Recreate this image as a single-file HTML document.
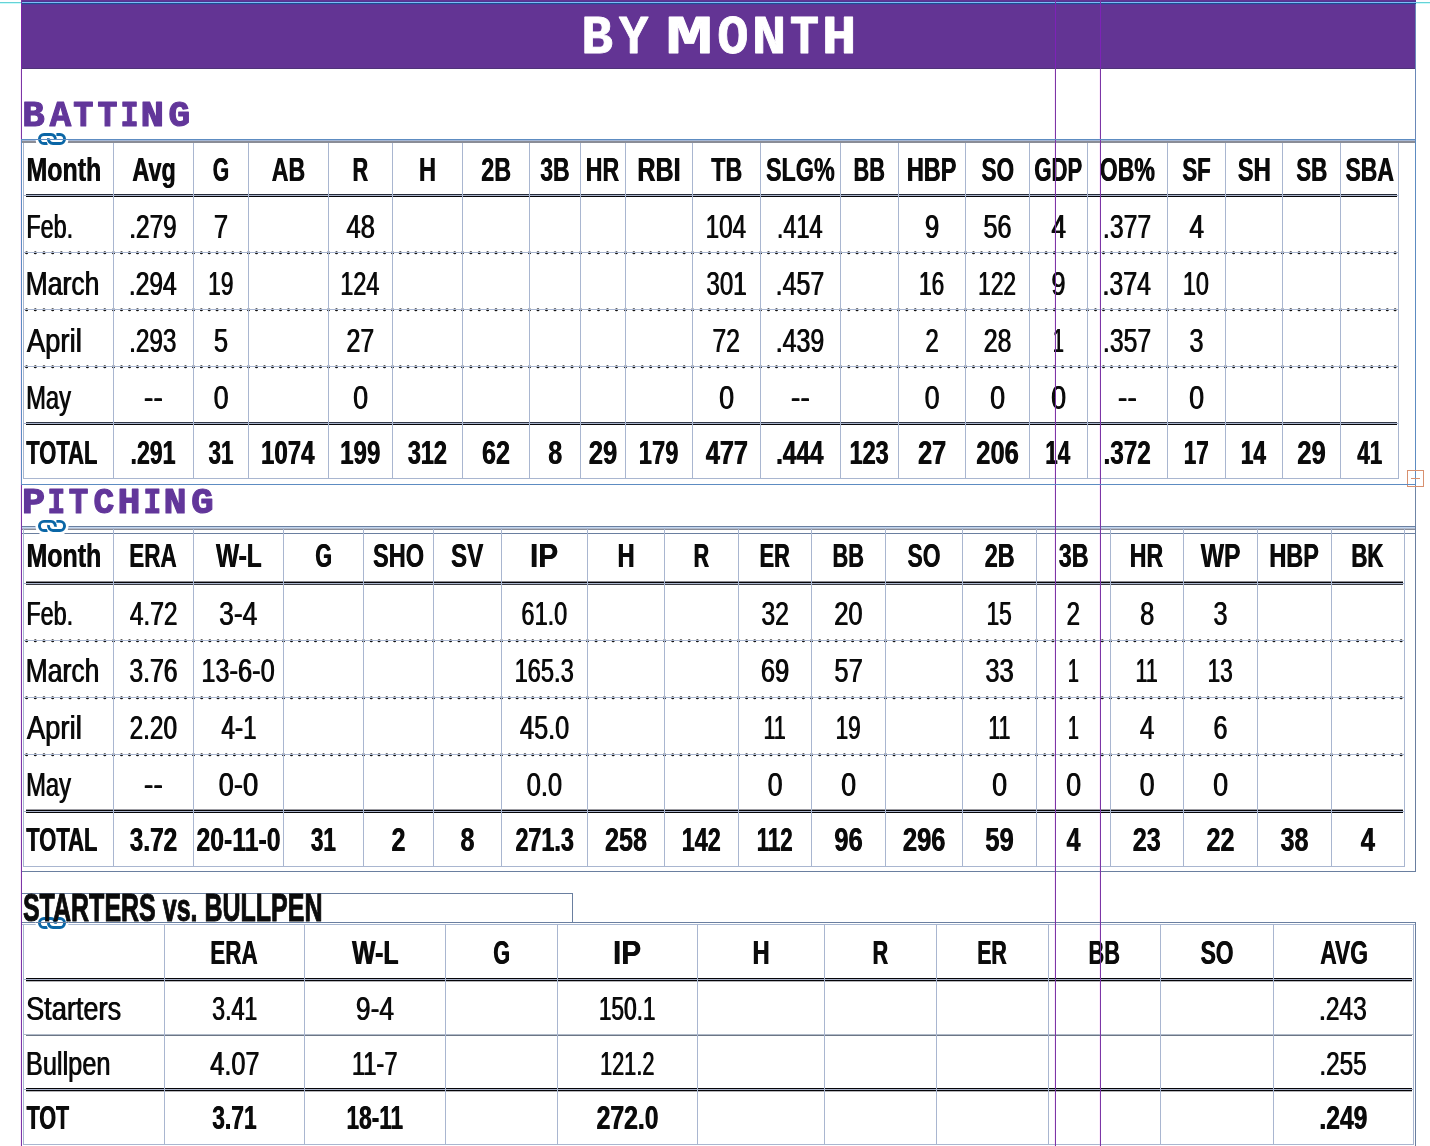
<!DOCTYPE html>
<html><head><meta charset="utf-8"><title>By Month</title>
<style>
html,body{margin:0;padding:0;background:#fff;}
body{width:1430px;height:1146px;overflow:hidden;}
svg{display:block;}
</style></head><body>
<svg width="1430" height="1146" viewBox="0 0 1430 1146">
<rect width="1430" height="1146" fill="#fff"/>

<rect x="20" y="69" width="1" height="1077" fill="#fcebfc" shape-rendering="crispEdges"/>
<rect x="1054" y="69" width="1" height="1077" fill="#fcebfc" shape-rendering="crispEdges"/>
<rect x="1099" y="69" width="1" height="1077" fill="#fcebfc" shape-rendering="crispEdges"/>
<rect x="0" y="2" width="1430" height="1" fill="#66d2d6" shape-rendering="crispEdges"/>
<rect x="0" y="3" width="1430" height="1" fill="#c8fbfb" shape-rendering="crispEdges"/>
<rect x="21" y="0" width="1395" height="69" fill="#633494" shape-rendering="crispEdges"/>
<rect x="21" y="1" width="1395" height="1" fill="#4d3592" shape-rendering="crispEdges"/>
<rect x="21" y="2" width="1395" height="1" fill="#7cbcf8" shape-rendering="crispEdges"/>
<rect x="21" y="3" width="1395" height="1" fill="#1d4f92" shape-rendering="crispEdges"/>
<rect x="21" y="4" width="1395" height="1" fill="#55399a" shape-rendering="crispEdges"/>
<rect x="21" y="68" width="1395" height="1" fill="#4f3478" shape-rendering="crispEdges"/>
<rect x="1415" y="4" width="1" height="135" fill="#6a88b8" shape-rendering="crispEdges"/>
<rect x="21" y="139" width="1395" height="1" fill="#5d8cc2" shape-rendering="crispEdges"/>
<rect x="22" y="140" width="1393" height="1" fill="#a6b8d6" shape-rendering="crispEdges"/>
<rect x="22" y="141" width="1393" height="2" fill="#8a8d97" shape-rendering="crispEdges"/>
<rect x="21" y="139" width="1" height="346" fill="#5d8cc2" shape-rendering="crispEdges"/>
<rect x="1415" y="139" width="1" height="346" fill="#5d8cc2" shape-rendering="crispEdges"/>
<rect x="21" y="484" width="1395" height="1" fill="#5d8cc2" shape-rendering="crispEdges"/>
<rect x="23" y="478" width="1376" height="1" fill="#a9b6d0" shape-rendering="crispEdges"/>
<rect x="26" y="194" width="1371" height="1" fill="#262c3a" shape-rendering="crispEdges"/>
<rect x="26" y="196" width="1371" height="1" fill="#050508" shape-rendering="crispEdges"/>
<rect x="23" y="195" width="1376" height="1" fill="#aab4cc" shape-rendering="crispEdges"/>
<path d="M26.60 252.80h0.01M35.29 252.80h0.01M43.98 252.80h0.01M52.67 252.80h0.01M61.36 252.80h0.01M70.05 252.80h0.01M78.74 252.80h0.01M87.43 252.80h0.01M96.12 252.80h0.01M104.81 252.80h0.01M113.50 252.80h0.01M121.50 252.80h0.01M129.50 252.80h0.01M137.50 252.80h0.01M145.50 252.80h0.01M153.50 252.80h0.01M161.50 252.80h0.01M169.50 252.80h0.01M177.50 252.80h0.01M185.50 252.80h0.01M193.50 252.80h0.01M201.36 252.80h0.01M209.21 252.80h0.01M217.07 252.80h0.01M224.93 252.80h0.01M232.79 252.80h0.01M240.64 252.80h0.01M248.50 252.80h0.01M256.50 252.80h0.01M264.50 252.80h0.01M272.50 252.80h0.01M280.50 252.80h0.01M288.50 252.80h0.01M296.50 252.80h0.01M304.50 252.80h0.01M312.50 252.80h0.01M320.50 252.80h0.01M328.50 252.80h0.01M336.50 252.80h0.01M344.50 252.80h0.01M352.50 252.80h0.01M360.50 252.80h0.01M368.50 252.80h0.01M376.50 252.80h0.01M384.50 252.80h0.01M392.50 252.80h0.01M400.28 252.80h0.01M408.06 252.80h0.01M415.83 252.80h0.01M423.61 252.80h0.01M431.39 252.80h0.01M439.17 252.80h0.01M446.94 252.80h0.01M454.72 252.80h0.01M462.50 252.80h0.01M470.88 252.80h0.01M479.25 252.80h0.01M487.62 252.80h0.01M496.00 252.80h0.01M504.38 252.80h0.01M512.75 252.80h0.01M521.12 252.80h0.01M529.50 252.80h0.01M538.00 252.80h0.01M546.50 252.80h0.01M555.00 252.80h0.01M563.50 252.80h0.01M572.00 252.80h0.01M580.50 252.80h0.01M589.50 252.80h0.01M598.50 252.80h0.01M607.50 252.80h0.01M616.50 252.80h0.01M625.50 252.80h0.01M633.88 252.80h0.01M642.25 252.80h0.01M650.62 252.80h0.01M659.00 252.80h0.01M667.38 252.80h0.01M675.75 252.80h0.01M684.12 252.80h0.01M692.50 252.80h0.01M701.00 252.80h0.01M709.50 252.80h0.01M718.00 252.80h0.01M726.50 252.80h0.01M735.00 252.80h0.01M743.50 252.80h0.01M752.00 252.80h0.01M760.50 252.80h0.01M768.50 252.80h0.01M776.50 252.80h0.01M784.50 252.80h0.01M792.50 252.80h0.01M800.50 252.80h0.01M808.50 252.80h0.01M816.50 252.80h0.01M824.50 252.80h0.01M832.50 252.80h0.01M840.50 252.80h0.01M848.79 252.80h0.01M857.07 252.80h0.01M865.36 252.80h0.01M873.64 252.80h0.01M881.93 252.80h0.01M890.21 252.80h0.01M898.50 252.80h0.01M906.88 252.80h0.01M915.25 252.80h0.01M923.62 252.80h0.01M932.00 252.80h0.01M940.38 252.80h0.01M948.75 252.80h0.01M957.12 252.80h0.01M965.50 252.80h0.01M973.50 252.80h0.01M981.50 252.80h0.01M989.50 252.80h0.01M997.50 252.80h0.01M1005.50 252.80h0.01M1013.50 252.80h0.01M1021.50 252.80h0.01M1029.50 252.80h0.01M1037.79 252.80h0.01M1046.07 252.80h0.01M1054.36 252.80h0.01M1062.64 252.80h0.01M1070.93 252.80h0.01M1079.21 252.80h0.01M1087.50 252.80h0.01M1095.50 252.80h0.01M1103.50 252.80h0.01M1111.50 252.80h0.01M1119.50 252.80h0.01M1127.50 252.80h0.01M1135.50 252.80h0.01M1143.50 252.80h0.01M1151.50 252.80h0.01M1159.50 252.80h0.01M1167.50 252.80h0.01M1175.79 252.80h0.01M1184.07 252.80h0.01M1192.36 252.80h0.01M1200.64 252.80h0.01M1208.93 252.80h0.01M1217.21 252.80h0.01M1225.50 252.80h0.01M1233.64 252.80h0.01M1241.79 252.80h0.01M1249.93 252.80h0.01M1258.07 252.80h0.01M1266.21 252.80h0.01M1274.36 252.80h0.01M1282.50 252.80h0.01M1290.79 252.80h0.01M1299.07 252.80h0.01M1307.36 252.80h0.01M1315.64 252.80h0.01M1323.93 252.80h0.01M1332.21 252.80h0.01M1340.50 252.80h0.01M1348.30 252.80h0.01M1356.10 252.80h0.01M1363.90 252.80h0.01M1371.70 252.80h0.01M1379.50 252.80h0.01M1387.30 252.80h0.01M1395.10 252.80h0.01" stroke="#111" stroke-width="3.1" stroke-linecap="round" fill="none"/>
<rect x="23" y="252" width="1376" height="1" fill="#a9b6d0" shape-rendering="crispEdges"/>
<path d="M26.60 309.80h0.01M35.29 309.80h0.01M43.98 309.80h0.01M52.67 309.80h0.01M61.36 309.80h0.01M70.05 309.80h0.01M78.74 309.80h0.01M87.43 309.80h0.01M96.12 309.80h0.01M104.81 309.80h0.01M113.50 309.80h0.01M121.50 309.80h0.01M129.50 309.80h0.01M137.50 309.80h0.01M145.50 309.80h0.01M153.50 309.80h0.01M161.50 309.80h0.01M169.50 309.80h0.01M177.50 309.80h0.01M185.50 309.80h0.01M193.50 309.80h0.01M201.36 309.80h0.01M209.21 309.80h0.01M217.07 309.80h0.01M224.93 309.80h0.01M232.79 309.80h0.01M240.64 309.80h0.01M248.50 309.80h0.01M256.50 309.80h0.01M264.50 309.80h0.01M272.50 309.80h0.01M280.50 309.80h0.01M288.50 309.80h0.01M296.50 309.80h0.01M304.50 309.80h0.01M312.50 309.80h0.01M320.50 309.80h0.01M328.50 309.80h0.01M336.50 309.80h0.01M344.50 309.80h0.01M352.50 309.80h0.01M360.50 309.80h0.01M368.50 309.80h0.01M376.50 309.80h0.01M384.50 309.80h0.01M392.50 309.80h0.01M400.28 309.80h0.01M408.06 309.80h0.01M415.83 309.80h0.01M423.61 309.80h0.01M431.39 309.80h0.01M439.17 309.80h0.01M446.94 309.80h0.01M454.72 309.80h0.01M462.50 309.80h0.01M470.88 309.80h0.01M479.25 309.80h0.01M487.62 309.80h0.01M496.00 309.80h0.01M504.38 309.80h0.01M512.75 309.80h0.01M521.12 309.80h0.01M529.50 309.80h0.01M538.00 309.80h0.01M546.50 309.80h0.01M555.00 309.80h0.01M563.50 309.80h0.01M572.00 309.80h0.01M580.50 309.80h0.01M589.50 309.80h0.01M598.50 309.80h0.01M607.50 309.80h0.01M616.50 309.80h0.01M625.50 309.80h0.01M633.88 309.80h0.01M642.25 309.80h0.01M650.62 309.80h0.01M659.00 309.80h0.01M667.38 309.80h0.01M675.75 309.80h0.01M684.12 309.80h0.01M692.50 309.80h0.01M701.00 309.80h0.01M709.50 309.80h0.01M718.00 309.80h0.01M726.50 309.80h0.01M735.00 309.80h0.01M743.50 309.80h0.01M752.00 309.80h0.01M760.50 309.80h0.01M768.50 309.80h0.01M776.50 309.80h0.01M784.50 309.80h0.01M792.50 309.80h0.01M800.50 309.80h0.01M808.50 309.80h0.01M816.50 309.80h0.01M824.50 309.80h0.01M832.50 309.80h0.01M840.50 309.80h0.01M848.79 309.80h0.01M857.07 309.80h0.01M865.36 309.80h0.01M873.64 309.80h0.01M881.93 309.80h0.01M890.21 309.80h0.01M898.50 309.80h0.01M906.88 309.80h0.01M915.25 309.80h0.01M923.62 309.80h0.01M932.00 309.80h0.01M940.38 309.80h0.01M948.75 309.80h0.01M957.12 309.80h0.01M965.50 309.80h0.01M973.50 309.80h0.01M981.50 309.80h0.01M989.50 309.80h0.01M997.50 309.80h0.01M1005.50 309.80h0.01M1013.50 309.80h0.01M1021.50 309.80h0.01M1029.50 309.80h0.01M1037.79 309.80h0.01M1046.07 309.80h0.01M1054.36 309.80h0.01M1062.64 309.80h0.01M1070.93 309.80h0.01M1079.21 309.80h0.01M1087.50 309.80h0.01M1095.50 309.80h0.01M1103.50 309.80h0.01M1111.50 309.80h0.01M1119.50 309.80h0.01M1127.50 309.80h0.01M1135.50 309.80h0.01M1143.50 309.80h0.01M1151.50 309.80h0.01M1159.50 309.80h0.01M1167.50 309.80h0.01M1175.79 309.80h0.01M1184.07 309.80h0.01M1192.36 309.80h0.01M1200.64 309.80h0.01M1208.93 309.80h0.01M1217.21 309.80h0.01M1225.50 309.80h0.01M1233.64 309.80h0.01M1241.79 309.80h0.01M1249.93 309.80h0.01M1258.07 309.80h0.01M1266.21 309.80h0.01M1274.36 309.80h0.01M1282.50 309.80h0.01M1290.79 309.80h0.01M1299.07 309.80h0.01M1307.36 309.80h0.01M1315.64 309.80h0.01M1323.93 309.80h0.01M1332.21 309.80h0.01M1340.50 309.80h0.01M1348.30 309.80h0.01M1356.10 309.80h0.01M1363.90 309.80h0.01M1371.70 309.80h0.01M1379.50 309.80h0.01M1387.30 309.80h0.01M1395.10 309.80h0.01" stroke="#111" stroke-width="3.1" stroke-linecap="round" fill="none"/>
<rect x="23" y="309" width="1376" height="1" fill="#a9b6d0" shape-rendering="crispEdges"/>
<path d="M26.60 366.80h0.01M35.29 366.80h0.01M43.98 366.80h0.01M52.67 366.80h0.01M61.36 366.80h0.01M70.05 366.80h0.01M78.74 366.80h0.01M87.43 366.80h0.01M96.12 366.80h0.01M104.81 366.80h0.01M113.50 366.80h0.01M121.50 366.80h0.01M129.50 366.80h0.01M137.50 366.80h0.01M145.50 366.80h0.01M153.50 366.80h0.01M161.50 366.80h0.01M169.50 366.80h0.01M177.50 366.80h0.01M185.50 366.80h0.01M193.50 366.80h0.01M201.36 366.80h0.01M209.21 366.80h0.01M217.07 366.80h0.01M224.93 366.80h0.01M232.79 366.80h0.01M240.64 366.80h0.01M248.50 366.80h0.01M256.50 366.80h0.01M264.50 366.80h0.01M272.50 366.80h0.01M280.50 366.80h0.01M288.50 366.80h0.01M296.50 366.80h0.01M304.50 366.80h0.01M312.50 366.80h0.01M320.50 366.80h0.01M328.50 366.80h0.01M336.50 366.80h0.01M344.50 366.80h0.01M352.50 366.80h0.01M360.50 366.80h0.01M368.50 366.80h0.01M376.50 366.80h0.01M384.50 366.80h0.01M392.50 366.80h0.01M400.28 366.80h0.01M408.06 366.80h0.01M415.83 366.80h0.01M423.61 366.80h0.01M431.39 366.80h0.01M439.17 366.80h0.01M446.94 366.80h0.01M454.72 366.80h0.01M462.50 366.80h0.01M470.88 366.80h0.01M479.25 366.80h0.01M487.62 366.80h0.01M496.00 366.80h0.01M504.38 366.80h0.01M512.75 366.80h0.01M521.12 366.80h0.01M529.50 366.80h0.01M538.00 366.80h0.01M546.50 366.80h0.01M555.00 366.80h0.01M563.50 366.80h0.01M572.00 366.80h0.01M580.50 366.80h0.01M589.50 366.80h0.01M598.50 366.80h0.01M607.50 366.80h0.01M616.50 366.80h0.01M625.50 366.80h0.01M633.88 366.80h0.01M642.25 366.80h0.01M650.62 366.80h0.01M659.00 366.80h0.01M667.38 366.80h0.01M675.75 366.80h0.01M684.12 366.80h0.01M692.50 366.80h0.01M701.00 366.80h0.01M709.50 366.80h0.01M718.00 366.80h0.01M726.50 366.80h0.01M735.00 366.80h0.01M743.50 366.80h0.01M752.00 366.80h0.01M760.50 366.80h0.01M768.50 366.80h0.01M776.50 366.80h0.01M784.50 366.80h0.01M792.50 366.80h0.01M800.50 366.80h0.01M808.50 366.80h0.01M816.50 366.80h0.01M824.50 366.80h0.01M832.50 366.80h0.01M840.50 366.80h0.01M848.79 366.80h0.01M857.07 366.80h0.01M865.36 366.80h0.01M873.64 366.80h0.01M881.93 366.80h0.01M890.21 366.80h0.01M898.50 366.80h0.01M906.88 366.80h0.01M915.25 366.80h0.01M923.62 366.80h0.01M932.00 366.80h0.01M940.38 366.80h0.01M948.75 366.80h0.01M957.12 366.80h0.01M965.50 366.80h0.01M973.50 366.80h0.01M981.50 366.80h0.01M989.50 366.80h0.01M997.50 366.80h0.01M1005.50 366.80h0.01M1013.50 366.80h0.01M1021.50 366.80h0.01M1029.50 366.80h0.01M1037.79 366.80h0.01M1046.07 366.80h0.01M1054.36 366.80h0.01M1062.64 366.80h0.01M1070.93 366.80h0.01M1079.21 366.80h0.01M1087.50 366.80h0.01M1095.50 366.80h0.01M1103.50 366.80h0.01M1111.50 366.80h0.01M1119.50 366.80h0.01M1127.50 366.80h0.01M1135.50 366.80h0.01M1143.50 366.80h0.01M1151.50 366.80h0.01M1159.50 366.80h0.01M1167.50 366.80h0.01M1175.79 366.80h0.01M1184.07 366.80h0.01M1192.36 366.80h0.01M1200.64 366.80h0.01M1208.93 366.80h0.01M1217.21 366.80h0.01M1225.50 366.80h0.01M1233.64 366.80h0.01M1241.79 366.80h0.01M1249.93 366.80h0.01M1258.07 366.80h0.01M1266.21 366.80h0.01M1274.36 366.80h0.01M1282.50 366.80h0.01M1290.79 366.80h0.01M1299.07 366.80h0.01M1307.36 366.80h0.01M1315.64 366.80h0.01M1323.93 366.80h0.01M1332.21 366.80h0.01M1340.50 366.80h0.01M1348.30 366.80h0.01M1356.10 366.80h0.01M1363.90 366.80h0.01M1371.70 366.80h0.01M1379.50 366.80h0.01M1387.30 366.80h0.01M1395.10 366.80h0.01" stroke="#111" stroke-width="3.1" stroke-linecap="round" fill="none"/>
<rect x="23" y="366" width="1376" height="1" fill="#a9b6d0" shape-rendering="crispEdges"/>
<rect x="26" y="422" width="1371" height="1" fill="#343a4a" shape-rendering="crispEdges"/>
<rect x="26" y="424" width="1371" height="1" fill="#050508" shape-rendering="crispEdges"/>
<rect x="23" y="423" width="1376" height="1" fill="#aab4cc" shape-rendering="crispEdges"/>
<rect x="23" y="143" width="1" height="336" fill="#a9b6d0" shape-rendering="crispEdges"/>
<rect x="113" y="143" width="1" height="336" fill="#a9b6d0" shape-rendering="crispEdges"/>
<rect x="193" y="143" width="1" height="336" fill="#a9b6d0" shape-rendering="crispEdges"/>
<rect x="248" y="143" width="1" height="336" fill="#a9b6d0" shape-rendering="crispEdges"/>
<rect x="328" y="143" width="1" height="336" fill="#a9b6d0" shape-rendering="crispEdges"/>
<rect x="392" y="143" width="1" height="336" fill="#a9b6d0" shape-rendering="crispEdges"/>
<rect x="462" y="143" width="1" height="336" fill="#a9b6d0" shape-rendering="crispEdges"/>
<rect x="529" y="143" width="1" height="336" fill="#a9b6d0" shape-rendering="crispEdges"/>
<rect x="580" y="143" width="1" height="336" fill="#a9b6d0" shape-rendering="crispEdges"/>
<rect x="625" y="143" width="1" height="336" fill="#a9b6d0" shape-rendering="crispEdges"/>
<rect x="692" y="143" width="1" height="336" fill="#a9b6d0" shape-rendering="crispEdges"/>
<rect x="760" y="143" width="1" height="336" fill="#a9b6d0" shape-rendering="crispEdges"/>
<rect x="840" y="143" width="1" height="336" fill="#a9b6d0" shape-rendering="crispEdges"/>
<rect x="898" y="143" width="1" height="336" fill="#a9b6d0" shape-rendering="crispEdges"/>
<rect x="965" y="143" width="1" height="336" fill="#a9b6d0" shape-rendering="crispEdges"/>
<rect x="1029" y="143" width="1" height="336" fill="#a9b6d0" shape-rendering="crispEdges"/>
<rect x="1087" y="143" width="1" height="336" fill="#a9b6d0" shape-rendering="crispEdges"/>
<rect x="1167" y="143" width="1" height="336" fill="#a9b6d0" shape-rendering="crispEdges"/>
<rect x="1225" y="143" width="1" height="336" fill="#a9b6d0" shape-rendering="crispEdges"/>
<rect x="1282" y="143" width="1" height="336" fill="#a9b6d0" shape-rendering="crispEdges"/>
<rect x="1340" y="143" width="1" height="336" fill="#a9b6d0" shape-rendering="crispEdges"/>
<rect x="1398" y="143" width="1" height="336" fill="#a9b6d0" shape-rendering="crispEdges"/>
<rect x="21" y="526" width="1395" height="1" fill="#6a7fa0" shape-rendering="crispEdges"/>
<rect x="22" y="527" width="1393" height="1" fill="#c2d6f0" shape-rendering="crispEdges"/>
<rect x="22" y="528" width="1393" height="1" fill="#b4bccc" shape-rendering="crispEdges"/>
<rect x="22" y="529" width="1393" height="1" fill="#8a8d97" shape-rendering="crispEdges"/>
<rect x="22" y="533" width="1394" height="1" fill="#6a7fa0" shape-rendering="crispEdges"/>
<rect x="1415" y="485" width="1" height="41" fill="#6f85a6" shape-rendering="crispEdges"/>
<rect x="1415" y="526" width="1" height="346" fill="#6a7fa0" shape-rendering="crispEdges"/>
<rect x="21" y="871" width="1395" height="1" fill="#6a7fa0" shape-rendering="crispEdges"/>
<rect x="23" y="866" width="1382" height="1" fill="#a9b6d0" shape-rendering="crispEdges"/>
<rect x="26" y="581" width="1377" height="1" fill="#8c8c92" shape-rendering="crispEdges"/>
<rect x="26" y="582" width="1377" height="1" fill="#050508" shape-rendering="crispEdges"/>
<rect x="26" y="584" width="1377" height="1" fill="#383a42" shape-rendering="crispEdges"/>
<rect x="23" y="583" width="1382" height="1" fill="#aab4cc" shape-rendering="crispEdges"/>
<path d="M26.60 640.80h0.01M35.29 640.80h0.01M43.98 640.80h0.01M52.67 640.80h0.01M61.36 640.80h0.01M70.05 640.80h0.01M78.74 640.80h0.01M87.43 640.80h0.01M96.12 640.80h0.01M104.81 640.80h0.01M113.50 640.80h0.01M121.50 640.80h0.01M129.50 640.80h0.01M137.50 640.80h0.01M145.50 640.80h0.01M153.50 640.80h0.01M161.50 640.80h0.01M169.50 640.80h0.01M177.50 640.80h0.01M185.50 640.80h0.01M193.50 640.80h0.01M201.68 640.80h0.01M209.86 640.80h0.01M218.05 640.80h0.01M226.23 640.80h0.01M234.41 640.80h0.01M242.59 640.80h0.01M250.77 640.80h0.01M258.95 640.80h0.01M267.14 640.80h0.01M275.32 640.80h0.01M283.50 640.80h0.01M291.50 640.80h0.01M299.50 640.80h0.01M307.50 640.80h0.01M315.50 640.80h0.01M323.50 640.80h0.01M331.50 640.80h0.01M339.50 640.80h0.01M347.50 640.80h0.01M355.50 640.80h0.01M363.50 640.80h0.01M371.28 640.80h0.01M379.06 640.80h0.01M386.83 640.80h0.01M394.61 640.80h0.01M402.39 640.80h0.01M410.17 640.80h0.01M417.94 640.80h0.01M425.72 640.80h0.01M433.50 640.80h0.01M442.00 640.80h0.01M450.50 640.80h0.01M459.00 640.80h0.01M467.50 640.80h0.01M476.00 640.80h0.01M484.50 640.80h0.01M493.00 640.80h0.01M501.50 640.80h0.01M509.32 640.80h0.01M517.14 640.80h0.01M524.95 640.80h0.01M532.77 640.80h0.01M540.59 640.80h0.01M548.41 640.80h0.01M556.23 640.80h0.01M564.05 640.80h0.01M571.86 640.80h0.01M579.68 640.80h0.01M587.50 640.80h0.01M596.06 640.80h0.01M604.61 640.80h0.01M613.17 640.80h0.01M621.72 640.80h0.01M630.28 640.80h0.01M638.83 640.80h0.01M647.39 640.80h0.01M655.94 640.80h0.01M664.50 640.80h0.01M672.72 640.80h0.01M680.94 640.80h0.01M689.17 640.80h0.01M697.39 640.80h0.01M705.61 640.80h0.01M713.83 640.80h0.01M722.06 640.80h0.01M730.28 640.80h0.01M738.50 640.80h0.01M746.61 640.80h0.01M754.72 640.80h0.01M762.83 640.80h0.01M770.94 640.80h0.01M779.06 640.80h0.01M787.17 640.80h0.01M795.28 640.80h0.01M803.39 640.80h0.01M811.50 640.80h0.01M819.72 640.80h0.01M827.94 640.80h0.01M836.17 640.80h0.01M844.39 640.80h0.01M852.61 640.80h0.01M860.83 640.80h0.01M869.06 640.80h0.01M877.28 640.80h0.01M885.50 640.80h0.01M894.06 640.80h0.01M902.61 640.80h0.01M911.17 640.80h0.01M919.72 640.80h0.01M928.28 640.80h0.01M936.83 640.80h0.01M945.39 640.80h0.01M953.94 640.80h0.01M962.50 640.80h0.01M970.72 640.80h0.01M978.94 640.80h0.01M987.17 640.80h0.01M995.39 640.80h0.01M1003.61 640.80h0.01M1011.83 640.80h0.01M1020.06 640.80h0.01M1028.28 640.80h0.01M1036.50 640.80h0.01M1044.72 640.80h0.01M1052.94 640.80h0.01M1061.17 640.80h0.01M1069.39 640.80h0.01M1077.61 640.80h0.01M1085.83 640.80h0.01M1094.06 640.80h0.01M1102.28 640.80h0.01M1110.50 640.80h0.01M1118.61 640.80h0.01M1126.72 640.80h0.01M1134.83 640.80h0.01M1142.94 640.80h0.01M1151.06 640.80h0.01M1159.17 640.80h0.01M1167.28 640.80h0.01M1175.39 640.80h0.01M1183.50 640.80h0.01M1191.72 640.80h0.01M1199.94 640.80h0.01M1208.17 640.80h0.01M1216.39 640.80h0.01M1224.61 640.80h0.01M1232.83 640.80h0.01M1241.06 640.80h0.01M1249.28 640.80h0.01M1257.50 640.80h0.01M1265.72 640.80h0.01M1273.94 640.80h0.01M1282.17 640.80h0.01M1290.39 640.80h0.01M1298.61 640.80h0.01M1306.83 640.80h0.01M1315.06 640.80h0.01M1323.28 640.80h0.01M1331.50 640.80h0.01M1340.20 640.80h0.01M1348.90 640.80h0.01M1357.60 640.80h0.01M1366.30 640.80h0.01M1375.00 640.80h0.01M1383.70 640.80h0.01M1392.40 640.80h0.01M1401.10 640.80h0.01" stroke="#111" stroke-width="3.1" stroke-linecap="round" fill="none"/>
<rect x="23" y="640" width="1382" height="1" fill="#a9b6d0" shape-rendering="crispEdges"/>
<path d="M26.60 697.80h0.01M35.29 697.80h0.01M43.98 697.80h0.01M52.67 697.80h0.01M61.36 697.80h0.01M70.05 697.80h0.01M78.74 697.80h0.01M87.43 697.80h0.01M96.12 697.80h0.01M104.81 697.80h0.01M113.50 697.80h0.01M121.50 697.80h0.01M129.50 697.80h0.01M137.50 697.80h0.01M145.50 697.80h0.01M153.50 697.80h0.01M161.50 697.80h0.01M169.50 697.80h0.01M177.50 697.80h0.01M185.50 697.80h0.01M193.50 697.80h0.01M201.68 697.80h0.01M209.86 697.80h0.01M218.05 697.80h0.01M226.23 697.80h0.01M234.41 697.80h0.01M242.59 697.80h0.01M250.77 697.80h0.01M258.95 697.80h0.01M267.14 697.80h0.01M275.32 697.80h0.01M283.50 697.80h0.01M291.50 697.80h0.01M299.50 697.80h0.01M307.50 697.80h0.01M315.50 697.80h0.01M323.50 697.80h0.01M331.50 697.80h0.01M339.50 697.80h0.01M347.50 697.80h0.01M355.50 697.80h0.01M363.50 697.80h0.01M371.28 697.80h0.01M379.06 697.80h0.01M386.83 697.80h0.01M394.61 697.80h0.01M402.39 697.80h0.01M410.17 697.80h0.01M417.94 697.80h0.01M425.72 697.80h0.01M433.50 697.80h0.01M442.00 697.80h0.01M450.50 697.80h0.01M459.00 697.80h0.01M467.50 697.80h0.01M476.00 697.80h0.01M484.50 697.80h0.01M493.00 697.80h0.01M501.50 697.80h0.01M509.32 697.80h0.01M517.14 697.80h0.01M524.95 697.80h0.01M532.77 697.80h0.01M540.59 697.80h0.01M548.41 697.80h0.01M556.23 697.80h0.01M564.05 697.80h0.01M571.86 697.80h0.01M579.68 697.80h0.01M587.50 697.80h0.01M596.06 697.80h0.01M604.61 697.80h0.01M613.17 697.80h0.01M621.72 697.80h0.01M630.28 697.80h0.01M638.83 697.80h0.01M647.39 697.80h0.01M655.94 697.80h0.01M664.50 697.80h0.01M672.72 697.80h0.01M680.94 697.80h0.01M689.17 697.80h0.01M697.39 697.80h0.01M705.61 697.80h0.01M713.83 697.80h0.01M722.06 697.80h0.01M730.28 697.80h0.01M738.50 697.80h0.01M746.61 697.80h0.01M754.72 697.80h0.01M762.83 697.80h0.01M770.94 697.80h0.01M779.06 697.80h0.01M787.17 697.80h0.01M795.28 697.80h0.01M803.39 697.80h0.01M811.50 697.80h0.01M819.72 697.80h0.01M827.94 697.80h0.01M836.17 697.80h0.01M844.39 697.80h0.01M852.61 697.80h0.01M860.83 697.80h0.01M869.06 697.80h0.01M877.28 697.80h0.01M885.50 697.80h0.01M894.06 697.80h0.01M902.61 697.80h0.01M911.17 697.80h0.01M919.72 697.80h0.01M928.28 697.80h0.01M936.83 697.80h0.01M945.39 697.80h0.01M953.94 697.80h0.01M962.50 697.80h0.01M970.72 697.80h0.01M978.94 697.80h0.01M987.17 697.80h0.01M995.39 697.80h0.01M1003.61 697.80h0.01M1011.83 697.80h0.01M1020.06 697.80h0.01M1028.28 697.80h0.01M1036.50 697.80h0.01M1044.72 697.80h0.01M1052.94 697.80h0.01M1061.17 697.80h0.01M1069.39 697.80h0.01M1077.61 697.80h0.01M1085.83 697.80h0.01M1094.06 697.80h0.01M1102.28 697.80h0.01M1110.50 697.80h0.01M1118.61 697.80h0.01M1126.72 697.80h0.01M1134.83 697.80h0.01M1142.94 697.80h0.01M1151.06 697.80h0.01M1159.17 697.80h0.01M1167.28 697.80h0.01M1175.39 697.80h0.01M1183.50 697.80h0.01M1191.72 697.80h0.01M1199.94 697.80h0.01M1208.17 697.80h0.01M1216.39 697.80h0.01M1224.61 697.80h0.01M1232.83 697.80h0.01M1241.06 697.80h0.01M1249.28 697.80h0.01M1257.50 697.80h0.01M1265.72 697.80h0.01M1273.94 697.80h0.01M1282.17 697.80h0.01M1290.39 697.80h0.01M1298.61 697.80h0.01M1306.83 697.80h0.01M1315.06 697.80h0.01M1323.28 697.80h0.01M1331.50 697.80h0.01M1340.20 697.80h0.01M1348.90 697.80h0.01M1357.60 697.80h0.01M1366.30 697.80h0.01M1375.00 697.80h0.01M1383.70 697.80h0.01M1392.40 697.80h0.01M1401.10 697.80h0.01" stroke="#111" stroke-width="3.1" stroke-linecap="round" fill="none"/>
<rect x="23" y="697" width="1382" height="1" fill="#a9b6d0" shape-rendering="crispEdges"/>
<path d="M26.60 754.80h0.01M35.29 754.80h0.01M43.98 754.80h0.01M52.67 754.80h0.01M61.36 754.80h0.01M70.05 754.80h0.01M78.74 754.80h0.01M87.43 754.80h0.01M96.12 754.80h0.01M104.81 754.80h0.01M113.50 754.80h0.01M121.50 754.80h0.01M129.50 754.80h0.01M137.50 754.80h0.01M145.50 754.80h0.01M153.50 754.80h0.01M161.50 754.80h0.01M169.50 754.80h0.01M177.50 754.80h0.01M185.50 754.80h0.01M193.50 754.80h0.01M201.68 754.80h0.01M209.86 754.80h0.01M218.05 754.80h0.01M226.23 754.80h0.01M234.41 754.80h0.01M242.59 754.80h0.01M250.77 754.80h0.01M258.95 754.80h0.01M267.14 754.80h0.01M275.32 754.80h0.01M283.50 754.80h0.01M291.50 754.80h0.01M299.50 754.80h0.01M307.50 754.80h0.01M315.50 754.80h0.01M323.50 754.80h0.01M331.50 754.80h0.01M339.50 754.80h0.01M347.50 754.80h0.01M355.50 754.80h0.01M363.50 754.80h0.01M371.28 754.80h0.01M379.06 754.80h0.01M386.83 754.80h0.01M394.61 754.80h0.01M402.39 754.80h0.01M410.17 754.80h0.01M417.94 754.80h0.01M425.72 754.80h0.01M433.50 754.80h0.01M442.00 754.80h0.01M450.50 754.80h0.01M459.00 754.80h0.01M467.50 754.80h0.01M476.00 754.80h0.01M484.50 754.80h0.01M493.00 754.80h0.01M501.50 754.80h0.01M509.32 754.80h0.01M517.14 754.80h0.01M524.95 754.80h0.01M532.77 754.80h0.01M540.59 754.80h0.01M548.41 754.80h0.01M556.23 754.80h0.01M564.05 754.80h0.01M571.86 754.80h0.01M579.68 754.80h0.01M587.50 754.80h0.01M596.06 754.80h0.01M604.61 754.80h0.01M613.17 754.80h0.01M621.72 754.80h0.01M630.28 754.80h0.01M638.83 754.80h0.01M647.39 754.80h0.01M655.94 754.80h0.01M664.50 754.80h0.01M672.72 754.80h0.01M680.94 754.80h0.01M689.17 754.80h0.01M697.39 754.80h0.01M705.61 754.80h0.01M713.83 754.80h0.01M722.06 754.80h0.01M730.28 754.80h0.01M738.50 754.80h0.01M746.61 754.80h0.01M754.72 754.80h0.01M762.83 754.80h0.01M770.94 754.80h0.01M779.06 754.80h0.01M787.17 754.80h0.01M795.28 754.80h0.01M803.39 754.80h0.01M811.50 754.80h0.01M819.72 754.80h0.01M827.94 754.80h0.01M836.17 754.80h0.01M844.39 754.80h0.01M852.61 754.80h0.01M860.83 754.80h0.01M869.06 754.80h0.01M877.28 754.80h0.01M885.50 754.80h0.01M894.06 754.80h0.01M902.61 754.80h0.01M911.17 754.80h0.01M919.72 754.80h0.01M928.28 754.80h0.01M936.83 754.80h0.01M945.39 754.80h0.01M953.94 754.80h0.01M962.50 754.80h0.01M970.72 754.80h0.01M978.94 754.80h0.01M987.17 754.80h0.01M995.39 754.80h0.01M1003.61 754.80h0.01M1011.83 754.80h0.01M1020.06 754.80h0.01M1028.28 754.80h0.01M1036.50 754.80h0.01M1044.72 754.80h0.01M1052.94 754.80h0.01M1061.17 754.80h0.01M1069.39 754.80h0.01M1077.61 754.80h0.01M1085.83 754.80h0.01M1094.06 754.80h0.01M1102.28 754.80h0.01M1110.50 754.80h0.01M1118.61 754.80h0.01M1126.72 754.80h0.01M1134.83 754.80h0.01M1142.94 754.80h0.01M1151.06 754.80h0.01M1159.17 754.80h0.01M1167.28 754.80h0.01M1175.39 754.80h0.01M1183.50 754.80h0.01M1191.72 754.80h0.01M1199.94 754.80h0.01M1208.17 754.80h0.01M1216.39 754.80h0.01M1224.61 754.80h0.01M1232.83 754.80h0.01M1241.06 754.80h0.01M1249.28 754.80h0.01M1257.50 754.80h0.01M1265.72 754.80h0.01M1273.94 754.80h0.01M1282.17 754.80h0.01M1290.39 754.80h0.01M1298.61 754.80h0.01M1306.83 754.80h0.01M1315.06 754.80h0.01M1323.28 754.80h0.01M1331.50 754.80h0.01M1340.20 754.80h0.01M1348.90 754.80h0.01M1357.60 754.80h0.01M1366.30 754.80h0.01M1375.00 754.80h0.01M1383.70 754.80h0.01M1392.40 754.80h0.01M1401.10 754.80h0.01" stroke="#111" stroke-width="3.1" stroke-linecap="round" fill="none"/>
<rect x="23" y="754" width="1382" height="1" fill="#a9b6d0" shape-rendering="crispEdges"/>
<rect x="26" y="809" width="1377" height="1" fill="#9c9ca2" shape-rendering="crispEdges"/>
<rect x="26" y="810" width="1377" height="1" fill="#050508" shape-rendering="crispEdges"/>
<rect x="26" y="812" width="1377" height="1" fill="#050508" shape-rendering="crispEdges"/>
<rect x="23" y="811" width="1382" height="1" fill="#aab4cc" shape-rendering="crispEdges"/>
<rect x="23" y="528" width="1" height="339" fill="#a9b6d0" shape-rendering="crispEdges"/>
<rect x="113" y="528" width="1" height="339" fill="#a9b6d0" shape-rendering="crispEdges"/>
<rect x="193" y="528" width="1" height="339" fill="#a9b6d0" shape-rendering="crispEdges"/>
<rect x="283" y="528" width="1" height="339" fill="#a9b6d0" shape-rendering="crispEdges"/>
<rect x="363" y="528" width="1" height="339" fill="#a9b6d0" shape-rendering="crispEdges"/>
<rect x="433" y="528" width="1" height="339" fill="#a9b6d0" shape-rendering="crispEdges"/>
<rect x="501" y="528" width="1" height="339" fill="#a9b6d0" shape-rendering="crispEdges"/>
<rect x="587" y="528" width="1" height="339" fill="#a9b6d0" shape-rendering="crispEdges"/>
<rect x="664" y="528" width="1" height="339" fill="#a9b6d0" shape-rendering="crispEdges"/>
<rect x="738" y="528" width="1" height="339" fill="#a9b6d0" shape-rendering="crispEdges"/>
<rect x="811" y="528" width="1" height="339" fill="#a9b6d0" shape-rendering="crispEdges"/>
<rect x="885" y="528" width="1" height="339" fill="#a9b6d0" shape-rendering="crispEdges"/>
<rect x="962" y="528" width="1" height="339" fill="#a9b6d0" shape-rendering="crispEdges"/>
<rect x="1036" y="528" width="1" height="339" fill="#a9b6d0" shape-rendering="crispEdges"/>
<rect x="1110" y="528" width="1" height="339" fill="#a9b6d0" shape-rendering="crispEdges"/>
<rect x="1183" y="528" width="1" height="339" fill="#a9b6d0" shape-rendering="crispEdges"/>
<rect x="1257" y="528" width="1" height="339" fill="#a9b6d0" shape-rendering="crispEdges"/>
<rect x="1331" y="528" width="1" height="339" fill="#a9b6d0" shape-rendering="crispEdges"/>
<rect x="1404" y="528" width="1" height="339" fill="#a9b6d0" shape-rendering="crispEdges"/>
<rect x="21" y="893" width="552" height="1" fill="#6a7fa0" shape-rendering="crispEdges"/>
<rect x="572" y="893" width="1" height="30" fill="#6a7fa0" shape-rendering="crispEdges"/>
<rect x="21" y="922" width="1395" height="1" fill="#6a7fa0" shape-rendering="crispEdges"/>
<rect x="22" y="924" width="1393" height="1" fill="#a9b8d2" shape-rendering="crispEdges"/>
<rect x="1415" y="922" width="1" height="224" fill="#6a7fa0" shape-rendering="crispEdges"/>
<rect x="23" y="1144" width="1391" height="1" fill="#a9b6d0" shape-rendering="crispEdges"/>
<rect x="26" y="978" width="1386" height="1" fill="#050508" shape-rendering="crispEdges"/>
<rect x="26" y="980" width="1386" height="1" fill="#050508" shape-rendering="crispEdges"/>
<rect x="26" y="981" width="1386" height="1" fill="#b4b4b8" shape-rendering="crispEdges"/>
<rect x="23" y="979" width="1391" height="1" fill="#aab4cc" shape-rendering="crispEdges"/>
<rect x="23" y="1034" width="1391" height="1" fill="#b0bac8" shape-rendering="crispEdges"/>
<rect x="26" y="1035" width="1386" height="1" fill="#6c7686" shape-rendering="crispEdges"/>
<rect x="26" y="1088" width="1386" height="1" fill="#050508" shape-rendering="crispEdges"/>
<rect x="26" y="1090" width="1386" height="1" fill="#050508" shape-rendering="crispEdges"/>
<rect x="26" y="1091" width="1386" height="1" fill="#b4b4b8" shape-rendering="crispEdges"/>
<rect x="23" y="1089" width="1391" height="1" fill="#aab4cc" shape-rendering="crispEdges"/>
<rect x="23" y="924" width="1" height="221" fill="#a9b6d0" shape-rendering="crispEdges"/>
<rect x="164" y="924" width="1" height="221" fill="#a9b6d0" shape-rendering="crispEdges"/>
<rect x="304" y="924" width="1" height="221" fill="#a9b6d0" shape-rendering="crispEdges"/>
<rect x="445" y="924" width="1" height="221" fill="#a9b6d0" shape-rendering="crispEdges"/>
<rect x="557" y="924" width="1" height="221" fill="#a9b6d0" shape-rendering="crispEdges"/>
<rect x="697" y="924" width="1" height="221" fill="#a9b6d0" shape-rendering="crispEdges"/>
<rect x="824" y="924" width="1" height="221" fill="#a9b6d0" shape-rendering="crispEdges"/>
<rect x="936" y="924" width="1" height="221" fill="#a9b6d0" shape-rendering="crispEdges"/>
<rect x="1048" y="924" width="1" height="221" fill="#a9b6d0" shape-rendering="crispEdges"/>
<rect x="1160" y="924" width="1" height="221" fill="#a9b6d0" shape-rendering="crispEdges"/>
<rect x="1273" y="924" width="1" height="221" fill="#a9b6d0" shape-rendering="crispEdges"/>
<rect x="1413" y="924" width="1" height="221" fill="#a9b6d0" shape-rendering="crispEdges"/>
<g transform="translate(0.00 -386.90)" fill="none">
<rect x="35.5" y="517.5" width="33" height="17.5" rx="8.75" fill="#fff"/>
<path d="M55.35 526.7 A4.55 4.55 0 0 0 50.8 521.35 L44 521.35 A4.55 4.55 0 0 0 44 530.45 L47.6 530.45" stroke="#0a66a6" stroke-width="2.9"/>
<path d="M48.55 525.1 A4.55 4.55 0 0 0 53.1 530.45 L60 530.45 A4.55 4.55 0 0 0 60 521.35 L56.4 521.35" stroke="#fff" stroke-width="5"/>
<path d="M48.55 525.1 A4.55 4.55 0 0 0 53.1 530.45 L60 530.45 A4.55 4.55 0 0 0 60 521.35 L56.4 521.35" stroke="#0a66a6" stroke-width="2.9"/>
</g>
<rect x="36" y="139" width="32" height="1" fill="#5d8cc2" shape-rendering="crispEdges"/>
<g transform="translate(0.00 0.00)" fill="none">
<rect x="35.5" y="517.5" width="33" height="17.5" rx="8.75" fill="#fff"/>
<path d="M55.35 526.7 A4.55 4.55 0 0 0 50.8 521.35 L44 521.35 A4.55 4.55 0 0 0 44 530.45 L47.6 530.45" stroke="#0a66a6" stroke-width="2.9"/>
<path d="M48.55 525.1 A4.55 4.55 0 0 0 53.1 530.45 L60 530.45 A4.55 4.55 0 0 0 60 521.35 L56.4 521.35" stroke="#fff" stroke-width="5"/>
<path d="M48.55 525.1 A4.55 4.55 0 0 0 53.1 530.45 L60 530.45 A4.55 4.55 0 0 0 60 521.35 L56.4 521.35" stroke="#0a66a6" stroke-width="2.9"/>
</g>
<g transform="translate(0.00 397.10)" fill="none">
<rect x="35.5" y="517.5" width="33" height="17.5" rx="8.75" fill="#fff"/>
<path d="M55.35 526.7 A4.55 4.55 0 0 0 50.8 521.35 L44 521.35 A4.55 4.55 0 0 0 44 530.45 L47.6 530.45" stroke="#0a66a6" stroke-width="2.9"/>
<path d="M48.55 525.1 A4.55 4.55 0 0 0 53.1 530.45 L60 530.45 A4.55 4.55 0 0 0 60 521.35 L56.4 521.35" stroke="#fff" stroke-width="5"/>
<path d="M48.55 525.1 A4.55 4.55 0 0 0 53.1 530.45 L60 530.45 A4.55 4.55 0 0 0 60 521.35 L56.4 521.35" stroke="#0a66a6" stroke-width="2.9"/>
</g>
<rect x="36" y="922" width="32" height="1" fill="#6a7fa0" shape-rendering="crispEdges"/>
<rect x="1407.5" y="470.5" width="16" height="16" fill="none" stroke="#d8906f" stroke-width="1"/>
<rect x="1411" y="478" width="9" height="1" fill="#d8906f" shape-rendering="crispEdges"/>
<g id="tr"><text x="25.94" y="238" font-size="34" fill="#0b0b0b" font-family='"Liberation Sans", sans-serif' textLength="46.76" lengthAdjust="spacingAndGlyphs">Feb.</text>
<text x="128.86" y="238" font-size="34" fill="#0b0b0b" font-family='"Liberation Sans", sans-serif' textLength="47.40" lengthAdjust="spacingAndGlyphs">.279</text>
<text x="213.51" y="238" font-size="34" fill="#0b0b0b" font-family='"Liberation Sans", sans-serif' textLength="14.20" lengthAdjust="spacingAndGlyphs">7</text>
<text x="345.98" y="238" font-size="34" fill="#0b0b0b" font-family='"Liberation Sans", sans-serif' textLength="28.70" lengthAdjust="spacingAndGlyphs">48</text>
<text x="705.20" y="238" font-size="34" fill="#0b0b0b" font-family='"Liberation Sans", sans-serif' textLength="40.50" lengthAdjust="spacingAndGlyphs">104</text>
<text x="776.56" y="238" font-size="34" fill="#0b0b0b" font-family='"Liberation Sans", sans-serif' textLength="45.60" lengthAdjust="spacingAndGlyphs">.414</text>
<text x="924.59" y="238" font-size="34" fill="#0b0b0b" font-family='"Liberation Sans", sans-serif' textLength="14.20" lengthAdjust="spacingAndGlyphs">9</text>
<text x="982.88" y="238" font-size="34" fill="#0b0b0b" font-family='"Liberation Sans", sans-serif' textLength="28.40" lengthAdjust="spacingAndGlyphs">56</text>
<text x="1051.11" y="238" font-size="34" fill="#0b0b0b" font-family='"Liberation Sans", sans-serif' textLength="14.50" lengthAdjust="spacingAndGlyphs">4</text>
<text x="1102.50" y="238" font-size="34" fill="#0b0b0b" font-family='"Liberation Sans", sans-serif' textLength="48.20" lengthAdjust="spacingAndGlyphs">.377</text>
<text x="1189.11" y="238" font-size="34" fill="#0b0b0b" font-family='"Liberation Sans", sans-serif' textLength="14.50" lengthAdjust="spacingAndGlyphs">4</text>
<text x="25.28" y="295" font-size="34" fill="#0b0b0b" font-family='"Liberation Sans", sans-serif' textLength="73.67" lengthAdjust="spacingAndGlyphs">March</text>
<text x="128.55" y="295" font-size="34" fill="#0b0b0b" font-family='"Liberation Sans", sans-serif' textLength="47.70" lengthAdjust="spacingAndGlyphs">.294</text>
<text x="207.81" y="295" font-size="34" fill="#0b0b0b" font-family='"Liberation Sans", sans-serif' textLength="25.20" lengthAdjust="spacingAndGlyphs">19</text>
<text x="340.06" y="295" font-size="34" fill="#0b0b0b" font-family='"Liberation Sans", sans-serif' textLength="38.90" lengthAdjust="spacingAndGlyphs">124</text>
<text x="706.06" y="295" font-size="34" fill="#0b0b0b" font-family='"Liberation Sans", sans-serif' textLength="40.20" lengthAdjust="spacingAndGlyphs">301</text>
<text x="775.31" y="295" font-size="34" fill="#0b0b0b" font-family='"Liberation Sans", sans-serif' textLength="48.50" lengthAdjust="spacingAndGlyphs">.457</text>
<text x="918.58" y="295" font-size="34" fill="#0b0b0b" font-family='"Liberation Sans", sans-serif' textLength="25.20" lengthAdjust="spacingAndGlyphs">16</text>
<text x="977.81" y="295" font-size="34" fill="#0b0b0b" font-family='"Liberation Sans", sans-serif' textLength="37.80" lengthAdjust="spacingAndGlyphs">122</text>
<text x="1051.05" y="295" font-size="34" fill="#0b0b0b" font-family='"Liberation Sans", sans-serif' textLength="14.20" lengthAdjust="spacingAndGlyphs">9</text>
<text x="1102.08" y="295" font-size="34" fill="#0b0b0b" font-family='"Liberation Sans", sans-serif' textLength="48.50" lengthAdjust="spacingAndGlyphs">.374</text>
<text x="1182.55" y="295" font-size="34" fill="#0b0b0b" font-family='"Liberation Sans", sans-serif' textLength="26.00" lengthAdjust="spacingAndGlyphs">10</text>
<text x="26.44" y="352" font-size="34" fill="#0b0b0b" font-family='"Liberation Sans", sans-serif' textLength="55.01" lengthAdjust="spacingAndGlyphs">April</text>
<text x="128.65" y="352" font-size="34" fill="#0b0b0b" font-family='"Liberation Sans", sans-serif' textLength="47.40" lengthAdjust="spacingAndGlyphs">.293</text>
<text x="213.39" y="352" font-size="34" fill="#0b0b0b" font-family='"Liberation Sans", sans-serif' textLength="14.20" lengthAdjust="spacingAndGlyphs">5</text>
<text x="346.08" y="352" font-size="34" fill="#0b0b0b" font-family='"Liberation Sans", sans-serif' textLength="27.60" lengthAdjust="spacingAndGlyphs">27</text>
<text x="712.03" y="352" font-size="34" fill="#0b0b0b" font-family='"Liberation Sans", sans-serif' textLength="27.60" lengthAdjust="spacingAndGlyphs">72</text>
<text x="775.34" y="352" font-size="34" fill="#0b0b0b" font-family='"Liberation Sans", sans-serif' textLength="48.50" lengthAdjust="spacingAndGlyphs">.439</text>
<text x="925.00" y="352" font-size="34" fill="#0b0b0b" font-family='"Liberation Sans", sans-serif' textLength="13.40" lengthAdjust="spacingAndGlyphs">2</text>
<text x="983.36" y="352" font-size="34" fill="#0b0b0b" font-family='"Liberation Sans", sans-serif' textLength="27.60" lengthAdjust="spacingAndGlyphs">28</text>
<text x="1052.43" y="352" font-size="34" fill="#0b0b0b" font-family='"Liberation Sans", sans-serif' textLength="11.00" lengthAdjust="spacingAndGlyphs">1</text>
<text x="1102.50" y="352" font-size="34" fill="#0b0b0b" font-family='"Liberation Sans", sans-serif' textLength="48.20" lengthAdjust="spacingAndGlyphs">.357</text>
<text x="1189.07" y="352" font-size="34" fill="#0b0b0b" font-family='"Liberation Sans", sans-serif' textLength="14.20" lengthAdjust="spacingAndGlyphs">3</text>
<text x="25.67" y="409" font-size="34" fill="#0b0b0b" font-family='"Liberation Sans", sans-serif' textLength="44.95" lengthAdjust="spacingAndGlyphs">May</text>
<text x="143.53" y="409" font-size="34" fill="#0b0b0b" font-family='"Liberation Sans", sans-serif' textLength="19.00" lengthAdjust="spacingAndGlyphs">--</text>
<text x="213.31" y="409" font-size="34" fill="#0b0b0b" font-family='"Liberation Sans", sans-serif' textLength="15.00" lengthAdjust="spacingAndGlyphs">0</text>
<text x="352.67" y="409" font-size="34" fill="#0b0b0b" font-family='"Liberation Sans", sans-serif' textLength="15.00" lengthAdjust="spacingAndGlyphs">0</text>
<text x="718.67" y="409" font-size="34" fill="#0b0b0b" font-family='"Liberation Sans", sans-serif' textLength="15.00" lengthAdjust="spacingAndGlyphs">0</text>
<text x="790.53" y="409" font-size="34" fill="#0b0b0b" font-family='"Liberation Sans", sans-serif' textLength="19.00" lengthAdjust="spacingAndGlyphs">--</text>
<text x="924.31" y="409" font-size="34" fill="#0b0b0b" font-family='"Liberation Sans", sans-serif' textLength="15.00" lengthAdjust="spacingAndGlyphs">0</text>
<text x="989.67" y="409" font-size="34" fill="#0b0b0b" font-family='"Liberation Sans", sans-serif' textLength="15.00" lengthAdjust="spacingAndGlyphs">0</text>
<text x="1050.67" y="409" font-size="34" fill="#0b0b0b" font-family='"Liberation Sans", sans-serif' textLength="15.00" lengthAdjust="spacingAndGlyphs">0</text>
<text x="1117.53" y="409" font-size="34" fill="#0b0b0b" font-family='"Liberation Sans", sans-serif' textLength="19.00" lengthAdjust="spacingAndGlyphs">--</text>
<text x="1188.67" y="409" font-size="34" fill="#0b0b0b" font-family='"Liberation Sans", sans-serif' textLength="15.00" lengthAdjust="spacingAndGlyphs">0</text>
<text x="25.94" y="625" font-size="34" fill="#0b0b0b" font-family='"Liberation Sans", sans-serif' textLength="46.76" lengthAdjust="spacingAndGlyphs">Feb.</text>
<text x="129.40" y="625" font-size="34" fill="#0b0b0b" font-family='"Liberation Sans", sans-serif' textLength="47.70" lengthAdjust="spacingAndGlyphs">4.72</text>
<text x="218.81" y="625" font-size="34" fill="#0b0b0b" font-family='"Liberation Sans", sans-serif' textLength="38.20" lengthAdjust="spacingAndGlyphs">3-4</text>
<text x="521.05" y="625" font-size="34" fill="#0b0b0b" font-family='"Liberation Sans", sans-serif' textLength="45.80" lengthAdjust="spacingAndGlyphs">61.0</text>
<text x="760.93" y="625" font-size="34" fill="#0b0b0b" font-family='"Liberation Sans", sans-serif' textLength="27.60" lengthAdjust="spacingAndGlyphs">32</text>
<text x="833.83" y="625" font-size="34" fill="#0b0b0b" font-family='"Liberation Sans", sans-serif' textLength="28.40" lengthAdjust="spacingAndGlyphs">20</text>
<text x="986.17" y="625" font-size="34" fill="#0b0b0b" font-family='"Liberation Sans", sans-serif' textLength="25.20" lengthAdjust="spacingAndGlyphs">15</text>
<text x="1066.32" y="625" font-size="34" fill="#0b0b0b" font-family='"Liberation Sans", sans-serif' textLength="13.40" lengthAdjust="spacingAndGlyphs">2</text>
<text x="1139.69" y="625" font-size="34" fill="#0b0b0b" font-family='"Liberation Sans", sans-serif' textLength="14.20" lengthAdjust="spacingAndGlyphs">8</text>
<text x="1213.07" y="625" font-size="34" fill="#0b0b0b" font-family='"Liberation Sans", sans-serif' textLength="14.20" lengthAdjust="spacingAndGlyphs">3</text>
<text x="25.28" y="682" font-size="34" fill="#0b0b0b" font-family='"Liberation Sans", sans-serif' textLength="73.67" lengthAdjust="spacingAndGlyphs">March</text>
<text x="128.94" y="682" font-size="34" fill="#0b0b0b" font-family='"Liberation Sans", sans-serif' textLength="48.20" lengthAdjust="spacingAndGlyphs">3.76</text>
<text x="200.89" y="682" font-size="34" fill="#0b0b0b" font-family='"Liberation Sans", sans-serif' textLength="73.40" lengthAdjust="spacingAndGlyphs">13-6-0</text>
<text x="514.16" y="682" font-size="34" fill="#0b0b0b" font-family='"Liberation Sans", sans-serif' textLength="59.20" lengthAdjust="spacingAndGlyphs">165.3</text>
<text x="760.41" y="682" font-size="34" fill="#0b0b0b" font-family='"Liberation Sans", sans-serif' textLength="28.40" lengthAdjust="spacingAndGlyphs">69</text>
<text x="833.98" y="682" font-size="34" fill="#0b0b0b" font-family='"Liberation Sans", sans-serif' textLength="28.40" lengthAdjust="spacingAndGlyphs">57</text>
<text x="984.89" y="682" font-size="34" fill="#0b0b0b" font-family='"Liberation Sans", sans-serif' textLength="28.40" lengthAdjust="spacingAndGlyphs">33</text>
<text x="1067.43" y="682" font-size="34" fill="#0b0b0b" font-family='"Liberation Sans", sans-serif' textLength="11.00" lengthAdjust="spacingAndGlyphs">1</text>
<text x="1135.30" y="682" font-size="34" fill="#0b0b0b" font-family='"Liberation Sans", sans-serif' textLength="22.00" lengthAdjust="spacingAndGlyphs">11</text>
<text x="1207.17" y="682" font-size="34" fill="#0b0b0b" font-family='"Liberation Sans", sans-serif' textLength="25.20" lengthAdjust="spacingAndGlyphs">13</text>
<text x="26.44" y="739" font-size="34" fill="#0b0b0b" font-family='"Liberation Sans", sans-serif' textLength="55.01" lengthAdjust="spacingAndGlyphs">April</text>
<text x="129.26" y="739" font-size="34" fill="#0b0b0b" font-family='"Liberation Sans", sans-serif' textLength="47.40" lengthAdjust="spacingAndGlyphs">2.20</text>
<text x="221.12" y="739" font-size="34" fill="#0b0b0b" font-family='"Liberation Sans", sans-serif' textLength="35.00" lengthAdjust="spacingAndGlyphs">4-1</text>
<text x="519.60" y="739" font-size="34" fill="#0b0b0b" font-family='"Liberation Sans", sans-serif' textLength="49.30" lengthAdjust="spacingAndGlyphs">45.0</text>
<text x="763.30" y="739" font-size="34" fill="#0b0b0b" font-family='"Liberation Sans", sans-serif' textLength="22.00" lengthAdjust="spacingAndGlyphs">11</text>
<text x="835.18" y="739" font-size="34" fill="#0b0b0b" font-family='"Liberation Sans", sans-serif' textLength="25.20" lengthAdjust="spacingAndGlyphs">19</text>
<text x="988.03" y="739" font-size="34" fill="#0b0b0b" font-family='"Liberation Sans", sans-serif' textLength="22.00" lengthAdjust="spacingAndGlyphs">11</text>
<text x="1067.43" y="739" font-size="34" fill="#0b0b0b" font-family='"Liberation Sans", sans-serif' textLength="11.00" lengthAdjust="spacingAndGlyphs">1</text>
<text x="1139.47" y="739" font-size="34" fill="#0b0b0b" font-family='"Liberation Sans", sans-serif' textLength="14.50" lengthAdjust="spacingAndGlyphs">4</text>
<text x="1212.91" y="739" font-size="34" fill="#0b0b0b" font-family='"Liberation Sans", sans-serif' textLength="14.20" lengthAdjust="spacingAndGlyphs">6</text>
<text x="25.67" y="796" font-size="34" fill="#0b0b0b" font-family='"Liberation Sans", sans-serif' textLength="44.95" lengthAdjust="spacingAndGlyphs">May</text>
<text x="143.53" y="796" font-size="34" fill="#0b0b0b" font-family='"Liberation Sans", sans-serif' textLength="19.00" lengthAdjust="spacingAndGlyphs">--</text>
<text x="218.30" y="796" font-size="34" fill="#0b0b0b" font-family='"Liberation Sans", sans-serif' textLength="39.50" lengthAdjust="spacingAndGlyphs">0-0</text>
<text x="526.19" y="796" font-size="34" fill="#0b0b0b" font-family='"Liberation Sans", sans-serif' textLength="35.60" lengthAdjust="spacingAndGlyphs">0.0</text>
<text x="767.31" y="796" font-size="34" fill="#0b0b0b" font-family='"Liberation Sans", sans-serif' textLength="15.00" lengthAdjust="spacingAndGlyphs">0</text>
<text x="840.67" y="796" font-size="34" fill="#0b0b0b" font-family='"Liberation Sans", sans-serif' textLength="15.00" lengthAdjust="spacingAndGlyphs">0</text>
<text x="991.67" y="796" font-size="34" fill="#0b0b0b" font-family='"Liberation Sans", sans-serif' textLength="15.00" lengthAdjust="spacingAndGlyphs">0</text>
<text x="1065.67" y="796" font-size="34" fill="#0b0b0b" font-family='"Liberation Sans", sans-serif' textLength="15.00" lengthAdjust="spacingAndGlyphs">0</text>
<text x="1139.31" y="796" font-size="34" fill="#0b0b0b" font-family='"Liberation Sans", sans-serif' textLength="15.00" lengthAdjust="spacingAndGlyphs">0</text>
<text x="1212.67" y="796" font-size="34" fill="#0b0b0b" font-family='"Liberation Sans", sans-serif' textLength="15.00" lengthAdjust="spacingAndGlyphs">0</text>
<text x="25.69" y="1019.5" font-size="34" fill="#0b0b0b" font-family='"Liberation Sans", sans-serif' textLength="95.02" lengthAdjust="spacingAndGlyphs">Starters</text>
<text x="211.70" y="1019.5" font-size="34" fill="#0b0b0b" font-family='"Liberation Sans", sans-serif' textLength="45.30" lengthAdjust="spacingAndGlyphs">3.41</text>
<text x="355.49" y="1019.5" font-size="34" fill="#0b0b0b" font-family='"Liberation Sans", sans-serif' textLength="38.20" lengthAdjust="spacingAndGlyphs">9-4</text>
<text x="598.38" y="1019.5" font-size="34" fill="#0b0b0b" font-family='"Liberation Sans", sans-serif' textLength="56.80" lengthAdjust="spacingAndGlyphs">150.1</text>
<text x="1318.62" y="1019.5" font-size="34" fill="#0b0b0b" font-family='"Liberation Sans", sans-serif' textLength="47.70" lengthAdjust="spacingAndGlyphs">.243</text>
<text x="25.52" y="1075" font-size="34" fill="#0b0b0b" font-family='"Liberation Sans", sans-serif' textLength="84.61" lengthAdjust="spacingAndGlyphs">Bullpen</text>
<text x="209.86" y="1075" font-size="34" fill="#0b0b0b" font-family='"Liberation Sans", sans-serif' textLength="49.30" lengthAdjust="spacingAndGlyphs">4.07</text>
<text x="351.44" y="1075" font-size="34" fill="#0b0b0b" font-family='"Liberation Sans", sans-serif' textLength="45.70" lengthAdjust="spacingAndGlyphs">11-7</text>
<text x="599.63" y="1075" font-size="34" fill="#0b0b0b" font-family='"Liberation Sans", sans-serif' textLength="54.40" lengthAdjust="spacingAndGlyphs">121.2</text>
<text x="1318.90" y="1075" font-size="34" fill="#0b0b0b" font-family='"Liberation Sans", sans-serif' textLength="47.40" lengthAdjust="spacingAndGlyphs">.255</text></g>
<use href="#tr" x="0.8"/>
<g id="tb"><text x="26.13" y="181" font-weight="bold" font-size="34" fill="#0b0b0b" font-family='"Liberation Sans", sans-serif' textLength="74.85" lengthAdjust="spacingAndGlyphs">Month</text>
<text x="132.12" y="181" font-weight="bold" font-size="34" fill="#0b0b0b" font-family='"Liberation Sans", sans-serif' textLength="43.37" lengthAdjust="spacingAndGlyphs">Avg</text>
<text x="212.53" y="181" font-weight="bold" font-size="34" fill="#0b0b0b" font-family='"Liberation Sans", sans-serif' textLength="16.40" lengthAdjust="spacingAndGlyphs">G</text>
<text x="271.47" y="181" font-weight="bold" font-size="34" fill="#0b0b0b" font-family='"Liberation Sans", sans-serif' textLength="33.42" lengthAdjust="spacingAndGlyphs">AB</text>
<text x="352.35" y="181" font-weight="bold" font-size="34" fill="#0b0b0b" font-family='"Liberation Sans", sans-serif' textLength="15.47" lengthAdjust="spacingAndGlyphs">R</text>
<text x="418.63" y="181" font-weight="bold" font-size="34" fill="#0b0b0b" font-family='"Liberation Sans", sans-serif' textLength="17.01" lengthAdjust="spacingAndGlyphs">H</text>
<text x="480.97" y="181" font-weight="bold" font-size="34" fill="#0b0b0b" font-family='"Liberation Sans", sans-serif' textLength="29.86" lengthAdjust="spacingAndGlyphs">2B</text>
<text x="539.94" y="181" font-weight="bold" font-size="34" fill="#0b0b0b" font-family='"Liberation Sans", sans-serif' textLength="29.45" lengthAdjust="spacingAndGlyphs">3B</text>
<text x="585.52" y="181" font-weight="bold" font-size="34" fill="#0b0b0b" font-family='"Liberation Sans", sans-serif' textLength="33.40" lengthAdjust="spacingAndGlyphs">HR</text>
<text x="637.04" y="181" font-weight="bold" font-size="34" fill="#0b0b0b" font-family='"Liberation Sans", sans-serif' textLength="43.27" lengthAdjust="spacingAndGlyphs">RBI</text>
<text x="710.93" y="181" font-weight="bold" font-size="34" fill="#0b0b0b" font-family='"Liberation Sans", sans-serif' textLength="31.02" lengthAdjust="spacingAndGlyphs">TB</text>
<text x="765.67" y="181" font-weight="bold" font-size="34" fill="#0b0b0b" font-family='"Liberation Sans", sans-serif' textLength="68.77" lengthAdjust="spacingAndGlyphs">SLG%</text>
<text x="853.22" y="181" font-weight="bold" font-size="34" fill="#0b0b0b" font-family='"Liberation Sans", sans-serif' textLength="31.46" lengthAdjust="spacingAndGlyphs">BB</text>
<text x="906.54" y="181" font-weight="bold" font-size="34" fill="#0b0b0b" font-family='"Liberation Sans", sans-serif' textLength="49.62" lengthAdjust="spacingAndGlyphs">HBP</text>
<text x="981.16" y="181" font-weight="bold" font-size="34" fill="#0b0b0b" font-family='"Liberation Sans", sans-serif' textLength="32.70" lengthAdjust="spacingAndGlyphs">SO</text>
<text x="1034.09" y="181" font-weight="bold" font-size="34" fill="#0b0b0b" font-family='"Liberation Sans", sans-serif' textLength="47.87" lengthAdjust="spacingAndGlyphs">GDP</text>
<text x="1099.47" y="181" font-weight="bold" font-size="34" fill="#0b0b0b" font-family='"Liberation Sans", sans-serif' textLength="55.07" lengthAdjust="spacingAndGlyphs">OB%</text>
<text x="1182.05" y="181" font-weight="bold" font-size="34" fill="#0b0b0b" font-family='"Liberation Sans", sans-serif' textLength="28.25" lengthAdjust="spacingAndGlyphs">SF</text>
<text x="1237.49" y="181" font-weight="bold" font-size="34" fill="#0b0b0b" font-family='"Liberation Sans", sans-serif' textLength="33.07" lengthAdjust="spacingAndGlyphs">SH</text>
<text x="1295.92" y="181" font-weight="bold" font-size="34" fill="#0b0b0b" font-family='"Liberation Sans", sans-serif' textLength="31.04" lengthAdjust="spacingAndGlyphs">SB</text>
<text x="1345.21" y="181" font-weight="bold" font-size="34" fill="#0b0b0b" font-family='"Liberation Sans", sans-serif' textLength="48.45" lengthAdjust="spacingAndGlyphs">SBA</text>
<text x="26.00" y="463.6" font-weight="bold" font-size="34" fill="#0b0b0b" font-family='"Liberation Sans", sans-serif' textLength="71.09" lengthAdjust="spacingAndGlyphs">TOTAL</text>
<text x="130.24" y="463.6" font-weight="bold" font-size="34" fill="#0b0b0b" font-family='"Liberation Sans", sans-serif' textLength="45.00" lengthAdjust="spacingAndGlyphs">.291</text>
<text x="208.20" y="463.6" font-weight="bold" font-size="34" fill="#0b0b0b" font-family='"Liberation Sans", sans-serif' textLength="25.00" lengthAdjust="spacingAndGlyphs">31</text>
<text x="260.74" y="463.6" font-weight="bold" font-size="34" fill="#0b0b0b" font-family='"Liberation Sans", sans-serif' textLength="53.50" lengthAdjust="spacingAndGlyphs">1074</text>
<text x="339.87" y="463.6" font-weight="bold" font-size="34" fill="#0b0b0b" font-family='"Liberation Sans", sans-serif' textLength="40.20" lengthAdjust="spacingAndGlyphs">199</text>
<text x="407.55" y="463.6" font-weight="bold" font-size="34" fill="#0b0b0b" font-family='"Liberation Sans", sans-serif' textLength="39.00" lengthAdjust="spacingAndGlyphs">312</text>
<text x="481.73" y="463.6" font-weight="bold" font-size="34" fill="#0b0b0b" font-family='"Liberation Sans", sans-serif' textLength="28.00" lengthAdjust="spacingAndGlyphs">62</text>
<text x="547.93" y="463.6" font-weight="bold" font-size="34" fill="#0b0b0b" font-family='"Liberation Sans", sans-serif' textLength="14.00" lengthAdjust="spacingAndGlyphs">8</text>
<text x="588.40" y="463.6" font-weight="bold" font-size="34" fill="#0b0b0b" font-family='"Liberation Sans", sans-serif' textLength="28.60" lengthAdjust="spacingAndGlyphs">29</text>
<text x="638.50" y="463.6" font-weight="bold" font-size="34" fill="#0b0b0b" font-family='"Liberation Sans", sans-serif' textLength="39.60" lengthAdjust="spacingAndGlyphs">179</text>
<text x="705.57" y="463.6" font-weight="bold" font-size="34" fill="#0b0b0b" font-family='"Liberation Sans", sans-serif' textLength="42.00" lengthAdjust="spacingAndGlyphs">477</text>
<text x="775.85" y="463.6" font-weight="bold" font-size="34" fill="#0b0b0b" font-family='"Liberation Sans", sans-serif' textLength="47.40" lengthAdjust="spacingAndGlyphs">.444</text>
<text x="849.36" y="463.6" font-weight="bold" font-size="34" fill="#0b0b0b" font-family='"Liberation Sans", sans-serif' textLength="39.00" lengthAdjust="spacingAndGlyphs">123</text>
<text x="917.79" y="463.6" font-weight="bold" font-size="34" fill="#0b0b0b" font-family='"Liberation Sans", sans-serif' textLength="28.00" lengthAdjust="spacingAndGlyphs">27</text>
<text x="976.03" y="463.6" font-weight="bold" font-size="34" fill="#0b0b0b" font-family='"Liberation Sans", sans-serif' textLength="42.50" lengthAdjust="spacingAndGlyphs">206</text>
<text x="1044.97" y="463.6" font-weight="bold" font-size="34" fill="#0b0b0b" font-family='"Liberation Sans", sans-serif' textLength="25.00" lengthAdjust="spacingAndGlyphs">14</text>
<text x="1103.17" y="463.6" font-weight="bold" font-size="34" fill="#0b0b0b" font-family='"Liberation Sans", sans-serif' textLength="47.40" lengthAdjust="spacingAndGlyphs">.372</text>
<text x="1183.53" y="463.6" font-weight="bold" font-size="34" fill="#0b0b0b" font-family='"Liberation Sans", sans-serif' textLength="25.00" lengthAdjust="spacingAndGlyphs">17</text>
<text x="1240.55" y="463.6" font-weight="bold" font-size="34" fill="#0b0b0b" font-family='"Liberation Sans", sans-serif' textLength="25.00" lengthAdjust="spacingAndGlyphs">14</text>
<text x="1296.90" y="463.6" font-weight="bold" font-size="34" fill="#0b0b0b" font-family='"Liberation Sans", sans-serif' textLength="28.60" lengthAdjust="spacingAndGlyphs">29</text>
<text x="1356.99" y="463.6" font-weight="bold" font-size="34" fill="#0b0b0b" font-family='"Liberation Sans", sans-serif' textLength="25.00" lengthAdjust="spacingAndGlyphs">41</text>
<text x="26.13" y="567.2" font-weight="bold" font-size="34" fill="#0b0b0b" font-family='"Liberation Sans", sans-serif' textLength="74.85" lengthAdjust="spacingAndGlyphs">Month</text>
<text x="129.02" y="567.2" font-weight="bold" font-size="34" fill="#0b0b0b" font-family='"Liberation Sans", sans-serif' textLength="47.43" lengthAdjust="spacingAndGlyphs">ERA</text>
<text x="215.66" y="567.2" font-weight="bold" font-size="34" fill="#0b0b0b" font-family='"Liberation Sans", sans-serif' textLength="45.78" lengthAdjust="spacingAndGlyphs">W-L</text>
<text x="315.12" y="567.2" font-weight="bold" font-size="34" fill="#0b0b0b" font-family='"Liberation Sans", sans-serif' textLength="16.58" lengthAdjust="spacingAndGlyphs">G</text>
<text x="372.77" y="567.2" font-weight="bold" font-size="34" fill="#0b0b0b" font-family='"Liberation Sans", sans-serif' textLength="51.05" lengthAdjust="spacingAndGlyphs">SHO</text>
<text x="450.77" y="567.2" font-weight="bold" font-size="34" fill="#0b0b0b" font-family='"Liberation Sans", sans-serif' textLength="32.22" lengthAdjust="spacingAndGlyphs">SV</text>
<text x="529.69" y="567.2" font-weight="bold" font-size="34" fill="#0b0b0b" font-family='"Liberation Sans", sans-serif' textLength="28.16" lengthAdjust="spacingAndGlyphs">IP</text>
<text x="617.29" y="567.2" font-weight="bold" font-size="34" fill="#0b0b0b" font-family='"Liberation Sans", sans-serif' textLength="16.97" lengthAdjust="spacingAndGlyphs">H</text>
<text x="693.35" y="567.2" font-weight="bold" font-size="34" fill="#0b0b0b" font-family='"Liberation Sans", sans-serif' textLength="15.47" lengthAdjust="spacingAndGlyphs">R</text>
<text x="759.37" y="567.2" font-weight="bold" font-size="34" fill="#0b0b0b" font-family='"Liberation Sans", sans-serif' textLength="30.12" lengthAdjust="spacingAndGlyphs">ER</text>
<text x="832.22" y="567.2" font-weight="bold" font-size="34" fill="#0b0b0b" font-family='"Liberation Sans", sans-serif' textLength="31.46" lengthAdjust="spacingAndGlyphs">BB</text>
<text x="907.28" y="567.2" font-weight="bold" font-size="34" fill="#0b0b0b" font-family='"Liberation Sans", sans-serif' textLength="32.94" lengthAdjust="spacingAndGlyphs">SO</text>
<text x="984.42" y="567.2" font-weight="bold" font-size="34" fill="#0b0b0b" font-family='"Liberation Sans", sans-serif' textLength="29.93" lengthAdjust="spacingAndGlyphs">2B</text>
<text x="1058.42" y="567.2" font-weight="bold" font-size="34" fill="#0b0b0b" font-family='"Liberation Sans", sans-serif' textLength="29.83" lengthAdjust="spacingAndGlyphs">3B</text>
<text x="1129.52" y="567.2" font-weight="bold" font-size="34" fill="#0b0b0b" font-family='"Liberation Sans", sans-serif' textLength="33.40" lengthAdjust="spacingAndGlyphs">HR</text>
<text x="1200.44" y="567.2" font-weight="bold" font-size="34" fill="#0b0b0b" font-family='"Liberation Sans", sans-serif' textLength="39.80" lengthAdjust="spacingAndGlyphs">WP</text>
<text x="1269.07" y="567.2" font-weight="bold" font-size="34" fill="#0b0b0b" font-family='"Liberation Sans", sans-serif' textLength="49.51" lengthAdjust="spacingAndGlyphs">HBP</text>
<text x="1351.07" y="567.2" font-weight="bold" font-size="34" fill="#0b0b0b" font-family='"Liberation Sans", sans-serif' textLength="32.08" lengthAdjust="spacingAndGlyphs">BK</text>
<text x="26.00" y="850.6" font-weight="bold" font-size="34" fill="#0b0b0b" font-family='"Liberation Sans", sans-serif' textLength="71.09" lengthAdjust="spacingAndGlyphs">TOTAL</text>
<text x="129.52" y="850.6" font-weight="bold" font-size="34" fill="#0b0b0b" font-family='"Liberation Sans", sans-serif' textLength="47.40" lengthAdjust="spacingAndGlyphs">3.72</text>
<text x="196.23" y="850.6" font-weight="bold" font-size="34" fill="#0b0b0b" font-family='"Liberation Sans", sans-serif' textLength="84.00" lengthAdjust="spacingAndGlyphs">20-11-0</text>
<text x="310.55" y="850.6" font-weight="bold" font-size="34" fill="#0b0b0b" font-family='"Liberation Sans", sans-serif' textLength="25.00" lengthAdjust="spacingAndGlyphs">31</text>
<text x="391.24" y="850.6" font-weight="bold" font-size="34" fill="#0b0b0b" font-family='"Liberation Sans", sans-serif' textLength="14.00" lengthAdjust="spacingAndGlyphs">2</text>
<text x="460.27" y="850.6" font-weight="bold" font-size="34" fill="#0b0b0b" font-family='"Liberation Sans", sans-serif' textLength="14.00" lengthAdjust="spacingAndGlyphs">8</text>
<text x="515.15" y="850.6" font-weight="bold" font-size="34" fill="#0b0b0b" font-family='"Liberation Sans", sans-serif' textLength="58.40" lengthAdjust="spacingAndGlyphs">271.3</text>
<text x="604.67" y="850.6" font-weight="bold" font-size="34" fill="#0b0b0b" font-family='"Liberation Sans", sans-serif' textLength="42.00" lengthAdjust="spacingAndGlyphs">258</text>
<text x="681.46" y="850.6" font-weight="bold" font-size="34" fill="#0b0b0b" font-family='"Liberation Sans", sans-serif' textLength="39.00" lengthAdjust="spacingAndGlyphs">142</text>
<text x="756.42" y="850.6" font-weight="bold" font-size="34" fill="#0b0b0b" font-family='"Liberation Sans", sans-serif' textLength="36.00" lengthAdjust="spacingAndGlyphs">112</text>
<text x="833.94" y="850.6" font-weight="bold" font-size="34" fill="#0b0b0b" font-family='"Liberation Sans", sans-serif' textLength="28.60" lengthAdjust="spacingAndGlyphs">96</text>
<text x="902.61" y="850.6" font-weight="bold" font-size="34" fill="#0b0b0b" font-family='"Liberation Sans", sans-serif' textLength="42.60" lengthAdjust="spacingAndGlyphs">296</text>
<text x="984.97" y="850.6" font-weight="bold" font-size="34" fill="#0b0b0b" font-family='"Liberation Sans", sans-serif' textLength="28.60" lengthAdjust="spacingAndGlyphs">59</text>
<text x="1066.28" y="850.6" font-weight="bold" font-size="34" fill="#0b0b0b" font-family='"Liberation Sans", sans-serif' textLength="14.00" lengthAdjust="spacingAndGlyphs">4</text>
<text x="1132.50" y="850.6" font-weight="bold" font-size="34" fill="#0b0b0b" font-family='"Liberation Sans", sans-serif' textLength="28.00" lengthAdjust="spacingAndGlyphs">23</text>
<text x="1206.28" y="850.6" font-weight="bold" font-size="34" fill="#0b0b0b" font-family='"Liberation Sans", sans-serif' textLength="28.00" lengthAdjust="spacingAndGlyphs">22</text>
<text x="1280.28" y="850.6" font-weight="bold" font-size="34" fill="#0b0b0b" font-family='"Liberation Sans", sans-serif' textLength="28.00" lengthAdjust="spacingAndGlyphs">38</text>
<text x="1360.61" y="850.6" font-weight="bold" font-size="34" fill="#0b0b0b" font-family='"Liberation Sans", sans-serif' textLength="14.00" lengthAdjust="spacingAndGlyphs">4</text>
<text x="210.02" y="964" font-weight="bold" font-size="34" fill="#0b0b0b" font-family='"Liberation Sans", sans-serif' textLength="47.43" lengthAdjust="spacingAndGlyphs">ERA</text>
<text x="351.87" y="964" font-weight="bold" font-size="34" fill="#0b0b0b" font-family='"Liberation Sans", sans-serif' textLength="46.35" lengthAdjust="spacingAndGlyphs">W-L</text>
<text x="493.12" y="964" font-weight="bold" font-size="34" fill="#0b0b0b" font-family='"Liberation Sans", sans-serif' textLength="16.58" lengthAdjust="spacingAndGlyphs">G</text>
<text x="612.69" y="964" font-weight="bold" font-size="34" fill="#0b0b0b" font-family='"Liberation Sans", sans-serif' textLength="28.16" lengthAdjust="spacingAndGlyphs">IP</text>
<text x="752.29" y="964" font-weight="bold" font-size="34" fill="#0b0b0b" font-family='"Liberation Sans", sans-serif' textLength="16.97" lengthAdjust="spacingAndGlyphs">H</text>
<text x="872.35" y="964" font-weight="bold" font-size="34" fill="#0b0b0b" font-family='"Liberation Sans", sans-serif' textLength="15.47" lengthAdjust="spacingAndGlyphs">R</text>
<text x="976.95" y="964" font-weight="bold" font-size="34" fill="#0b0b0b" font-family='"Liberation Sans", sans-serif' textLength="29.52" lengthAdjust="spacingAndGlyphs">ER</text>
<text x="1088.22" y="964" font-weight="bold" font-size="34" fill="#0b0b0b" font-family='"Liberation Sans", sans-serif' textLength="31.46" lengthAdjust="spacingAndGlyphs">BB</text>
<text x="1200.29" y="964" font-weight="bold" font-size="34" fill="#0b0b0b" font-family='"Liberation Sans", sans-serif' textLength="32.94" lengthAdjust="spacingAndGlyphs">SO</text>
<text x="1319.93" y="964" font-weight="bold" font-size="34" fill="#0b0b0b" font-family='"Liberation Sans", sans-serif' textLength="47.76" lengthAdjust="spacingAndGlyphs">AVG</text>
<text x="26.36" y="1129.2" font-weight="bold" font-size="34" fill="#0b0b0b" font-family='"Liberation Sans", sans-serif' textLength="42.41" lengthAdjust="spacingAndGlyphs">TOT</text>
<text x="211.94" y="1129.2" font-weight="bold" font-size="34" fill="#0b0b0b" font-family='"Liberation Sans", sans-serif' textLength="44.40" lengthAdjust="spacingAndGlyphs">3.71</text>
<text x="346.28" y="1129.2" font-weight="bold" font-size="34" fill="#0b0b0b" font-family='"Liberation Sans", sans-serif' textLength="56.50" lengthAdjust="spacingAndGlyphs">18-11</text>
<text x="596.35" y="1129.2" font-weight="bold" font-size="34" fill="#0b0b0b" font-family='"Liberation Sans", sans-serif' textLength="61.90" lengthAdjust="spacingAndGlyphs">272.0</text>
<text x="1319.09" y="1129.2" font-weight="bold" font-size="34" fill="#0b0b0b" font-family='"Liberation Sans", sans-serif' textLength="48.00" lengthAdjust="spacingAndGlyphs">.249</text></g>
<use href="#tb" x="0.6"/>
<text x="22.93" y="921" font-weight="bold" stroke="#0b0b0b" stroke-width="1.0" stroke-linejoin="round" font-size="38.5" fill="#0b0b0b" font-family='"Liberation Sans", sans-serif' textLength="299.55" lengthAdjust="spacingAndGlyphs">STARTERS vs. BULLPEN</text>
<text y="53" font-weight="bold" stroke="#ffffff" stroke-width="0.8" stroke-linejoin="round" font-size="53" fill="#ffffff" font-family='"Liberation Mono", monospace'><tspan x="581.18" textLength="31.79" lengthAdjust="spacingAndGlyphs">B</tspan><tspan x="618.89" textLength="29.38" lengthAdjust="spacingAndGlyphs">Y</tspan> <tspan x="665.62" textLength="47.50" lengthAdjust="spacingAndGlyphs">M</tspan><tspan x="717.16" textLength="31.25" lengthAdjust="spacingAndGlyphs">O</tspan><tspan x="751.67" textLength="34.69" lengthAdjust="spacingAndGlyphs">N</tspan><tspan x="789.83" textLength="29.38" lengthAdjust="spacingAndGlyphs">T</tspan><tspan x="821.66" textLength="34.78" lengthAdjust="spacingAndGlyphs">H</tspan></text>
<text y="125.8" font-weight="bold" stroke="#62369a" stroke-width="1.2" stroke-linejoin="round" font-size="37.5" fill="#62369a" font-family='"Liberation Mono", monospace'><tspan x="22.21" textLength="22.43" lengthAdjust="spacingAndGlyphs">B</tspan><tspan x="49.63" textLength="21.41" lengthAdjust="spacingAndGlyphs">A</tspan><tspan x="73.28" textLength="20.18" lengthAdjust="spacingAndGlyphs">T</tspan><tspan x="97.55" textLength="19.94" lengthAdjust="spacingAndGlyphs">T</tspan><tspan x="120.39" textLength="18.08" lengthAdjust="spacingAndGlyphs">I</tspan><tspan x="140.47" textLength="23.56" lengthAdjust="spacingAndGlyphs">N</tspan><tspan x="168.56" textLength="21.63" lengthAdjust="spacingAndGlyphs">G</tspan></text>
<text y="512.8" font-weight="bold" stroke="#62369a" stroke-width="1.2" stroke-linejoin="round" font-size="37.5" fill="#62369a" font-family='"Liberation Mono", monospace'><tspan x="22.04" textLength="23.18" lengthAdjust="spacingAndGlyphs">P</tspan><tspan x="47.52" textLength="17.71" lengthAdjust="spacingAndGlyphs">I</tspan><tspan x="68.64" textLength="19.57" lengthAdjust="spacingAndGlyphs">T</tspan><tspan x="93.45" textLength="20.80" lengthAdjust="spacingAndGlyphs">C</tspan><tspan x="117.51" textLength="23.02" lengthAdjust="spacingAndGlyphs">H</tspan><tspan x="143.51" textLength="17.71" lengthAdjust="spacingAndGlyphs">I</tspan><tspan x="163.61" textLength="23.16" lengthAdjust="spacingAndGlyphs">N</tspan><tspan x="191.24" textLength="22.36" lengthAdjust="spacingAndGlyphs">G</tspan></text>
<rect x="21" y="0" width="1" height="1146" fill="#7b36a6" shape-rendering="crispEdges"/>
<rect x="1055" y="0" width="1" height="1146" fill="#7b36a6" shape-rendering="crispEdges"/>
<rect x="1100" y="0" width="1" height="1146" fill="#7b36a6" shape-rendering="crispEdges"/>
<rect x="1055" y="4" width="1" height="64" fill="#7e22b8" shape-rendering="crispEdges"/>
<rect x="1100" y="4" width="1" height="64" fill="#7e22b8" shape-rendering="crispEdges"/>
<rect x="21" y="4" width="1" height="64" fill="#7a25a8" shape-rendering="crispEdges"/>
<rect x="21" y="139" width="1" height="346" fill="#5d8cc2" shape-rendering="crispEdges"/>
<rect x="21" y="139" width="1395" height="1" fill="#5d8cc2" shape-rendering="crispEdges"/>
<rect x="21" y="484" width="1395" height="1" fill="#5d8cc2" shape-rendering="crispEdges"/>
</svg>
</body></html>
